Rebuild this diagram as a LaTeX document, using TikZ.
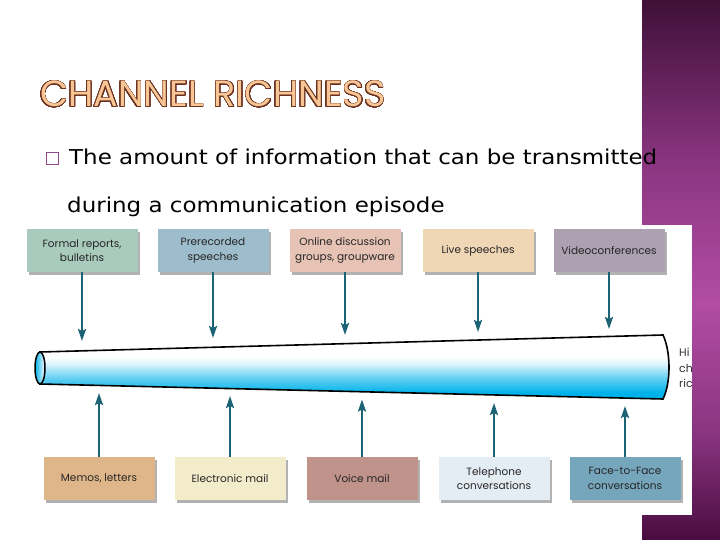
\documentclass[tikz,border=0pt]{standalone}
\usepackage{fontspec}
\setmainfont{DejaVu Sans}
\newfontfamily\bodyfont[FakeStretch=1.12]{DejaVu Sans}
\newfontfamily\titlefont{Poppins}
\newfontfamily\boxfont{Poppins}
\usepackage{contour}
\contourlength{0.7pt}
\contournumber{32}
\usetikzlibrary{arrows.meta,shadows}
\definecolor{bandT}{HTML}{3F1038}
\definecolor{bandM}{HTML}{8A3580}
\definecolor{bandL}{HTML}{B24CA4}
\definecolor{bandB}{HTML}{4A0C40}
\definecolor{pipeC}{HTML}{00B2EA}
\definecolor{pipeC2}{HTML}{6AD2F4}
\definecolor{pipeC3}{HTML}{D8F3FC}
\definecolor{teal}{HTML}{1D6275}
\definecolor{titlefill}{HTML}{F8C594}
\definecolor{titleedge}{HTML}{6A3020}
\definecolor{bulletc}{HTML}{8E4A8A}
\definecolor{cA}{HTML}{A9CBBD}
\definecolor{cB}{HTML}{9DBDCC}
\definecolor{cC}{HTML}{E6C3B5}
\definecolor{cD}{HTML}{EFD6B5}
\definecolor{cE}{HTML}{ADA0B0}
\definecolor{cF}{HTML}{DEB68A}
\definecolor{cG}{HTML}{F3ECCB}
\definecolor{cH}{HTML}{BF928A}
\definecolor{cI}{HTML}{E5EDF4}
\definecolor{cJ}{HTML}{75A6BC}
\pgfdeclareverticalshading{band}{100bp}{color(0bp)=(bandB); color(25bp)=(bandB); color(35bp)=(bandM); color(47bp)=(bandL); color(60bp)=(bandM); color(75bp)=(bandT); color(100bp)=(bandT)}
\pgfdeclareverticalshading{pipe}{100bp}{color(0bp)=(pipeC); color(30bp)=(pipeC); color(42bp)=(pipeC2); color(52bp)=(pipeC3); color(58bp)=(white); color(100bp)=(white)}
\tikzset{
  mbox/.style={draw=none, minimum width=111pt, minimum height=43pt, inner sep=1pt,
    align=center, font=\boxfont\fontsize{10.5}{14.5}\selectfont, text=black!85,
    drop shadow={shadow xshift=2.5pt, shadow yshift=-3pt, opacity=0.3, fill=black}},
  arr/.style={draw=teal, line width=2pt, -{Stealth[length=12pt,width=8pt,inset=2pt]}},
  hitext/.style={anchor=west, inner sep=0, font=\boxfont\fontsize{11}{11}\selectfont, text=black!80},
}
\begin{document}
\begin{tikzpicture}[x=1pt,y=-1pt]
\useasboundingbox (0,0) rectangle (720,540);
\fill[white] (0,0) rectangle (720,540);
\shade[shading=band] (642,0) rectangle (720,540);
\fill[white] (26,225) rectangle (692,515);
% title
\node[anchor=base west, inner sep=0] (title) at (40,107)
  {\titlefont\fontsize{36.5}{36.5}\selectfont\color{titlefill}\contour{titleedge}{CHANNEL RICHNESS}};
% bullet
\draw[bulletc, line width=0.8pt] (46,152) rectangle (58,164);
\node[anchor=base west, inner sep=0] (l1) at (69,165)
  {\bodyfont\fontsize{20.5}{20.5}\selectfont The amount of information that can be transmitted};
\node[anchor=base west, inner sep=0] (l2) at (67,213)
  {\bodyfont\fontsize{20.5}{20.5}\selectfont during a communication episode};
% pipe
\shadedraw[shading=pipe, draw=black, line width=1.6pt]
  (40,352) -- (663,335) .. controls (671,352) and (671,383) .. (663,399) -- (40,384) -- cycle;
\shadedraw[left color=pipeC, right color=white, draw=black, line width=1.5pt]
  (40,368) ellipse [x radius=5pt, y radius=16pt];
\node[hitext] (hi1) at (679,352) {Hi};
\node[hitext] (hi2) at (679,368) {ch};
\node[hitext] (hi3) at (679,383) {ric};
% top boxes
\node[mbox, fill=cA] (t1) at (82,250.5) {Formal reports,\\bulletins};
\node[mbox, fill=cB] (t2) at (213,250.5) {Prerecorded\\speeches};
\node[mbox, fill=cC] (t3) at (345,250.5) {Online discussion\\groups, groupware};
\node[mbox, fill=cD] (t4) at (478,250.5) {Live speeches};
\node[mbox, fill=cE] (t5) at (609,250.5) {Videoconferences};
% bottom boxes
\node[mbox, fill=cF] (b1) at (99,478.5) {Memos, letters};
\node[mbox, fill=cG] (b2) at (230,478.5) {Electronic mail};
\node[mbox, fill=cH] (b3) at (362,478.5) {Voice mail};
\node[mbox, fill=cI] (b4) at (494,478.5) {Telephone\\conversations};
\node[mbox, fill=cJ] (b5) at (625,478.5) {Face-to-Face\\conversations};
% arrow end points
\coordinate (p1) at (82,341);
\coordinate (p2) at (213,338);
\coordinate (p3) at (345,335);
\coordinate (p4) at (478,332);
\coordinate (p5) at (609,329);
\coordinate (q1) at (99,393);
\coordinate (q2) at (230,396);
\coordinate (q3) at (362,399.5);
\coordinate (q4) at (494,403);
\coordinate (q5) at (625,406);
\foreach \i in {1,...,5}{
  \draw[arr] (t\i.south) -- (p\i);
  \draw[arr] (b\i.north) -- (q\i);
}
\end{tikzpicture}
\end{document}
